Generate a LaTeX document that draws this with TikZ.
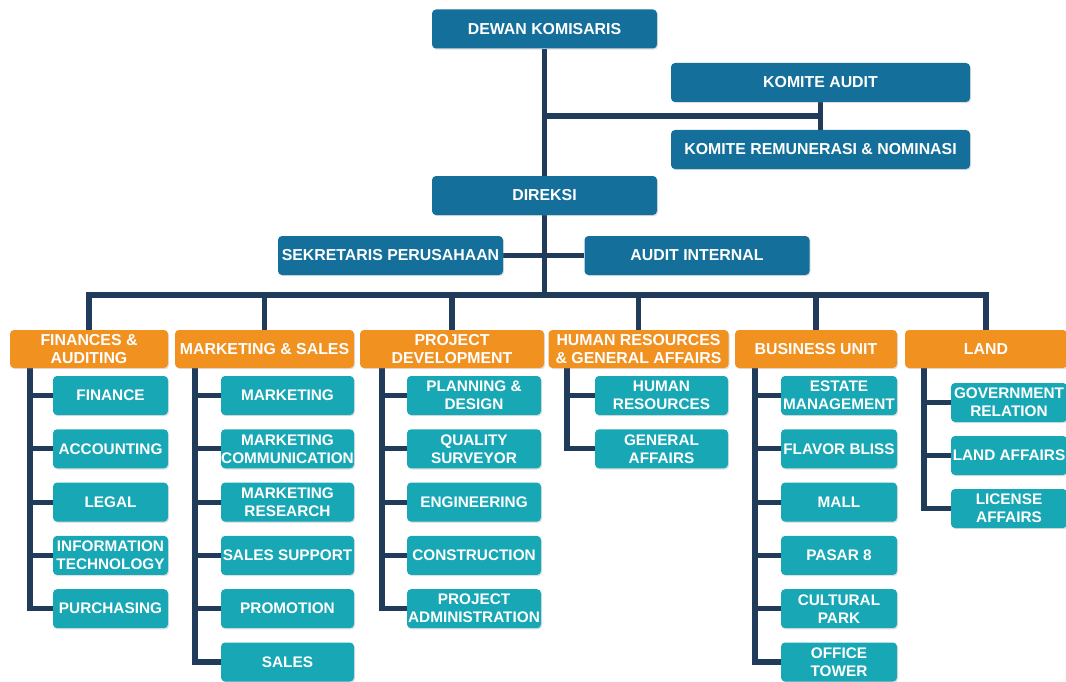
\documentclass[tikz,border=0pt]{standalone}
\usepackage{fontspec}
\setmainfont{Liberation Sans}
\usetikzlibrary{backgrounds,shadows}
\definecolor{cblue}{RGB}{20,112,155}
\definecolor{corange}{RGB}{241,145,32}
\definecolor{cteal}{RGB}{24,167,180}
\definecolor{cline}{RGB}{33,60,90}
\tikzset{
  basebox/.style={rounded corners=3pt, inner sep=0pt, align=center, text=white,
    drop shadow={shadow xshift=0.8pt, shadow yshift=-0.9pt, opacity=0.25}},
  topbox/.style={basebox, fill=cblue, minimum height=29.25pt,
    font=\fontsize{11.9pt}{13.5pt}\selectfont\bfseries},
  headbox/.style={basebox, fill=corange, minimum height=28.5pt,
    font=\fontsize{11.9pt}{13.5pt}\selectfont\bfseries},
  childbox/.style={basebox, fill=cteal, minimum height=29.25pt,
    font=\fontsize{11.5pt}{13.5pt}\selectfont\bfseries},
  conn/.style={draw=cline, line width=3.9pt}
}
\begin{document}
\begin{tikzpicture}[x=0.75pt,y=-0.75pt]
\useasboundingbox (0,0) rectangle (1066,681);
% top level
\node[topbox, minimum width=168.75pt] (DK) at (544.5,29) {DEWAN KOMISARIS};
\node[topbox, minimum width=224.25pt] (KA) at (820.5,82.5) {KOMITE AUDIT};
\node[topbox, minimum width=224.25pt] (KR) at (820.5,149.5) {KOMITE REMUNERASI \& NOMINASI};
\node[topbox, minimum width=168.75pt] (DIR) at (544.5,195.5) {DIREKSI};
\node[topbox, minimum width=168.75pt] (SEK) at (390.5,255.5) {SEKRETARIS PERUSAHAAN};
\node[topbox, minimum width=168.75pt] (AI) at (697,255.5) {AUDIT INTERNAL};
% headers
\node[headbox, minimum width=118.5pt] (FIN) at (89,349) {FINANCES \&\\AUDITING};
\node[headbox, minimum width=134.25pt] (MKT) at (264.5,349) {MARKETING \& SALES};
\node[headbox, minimum width=138pt] (PRJ) at (452,349) {PROJECT\\DEVELOPMENT};
\node[headbox, minimum width=135pt] (HR) at (638.5,349) {HUMAN RESOURCES\\\& GENERAL AFFAIRS};
\node[headbox, minimum width=121.5pt] (BUS) at (816,349) {BUSINESS UNIT};
\node[headbox, minimum width=121.5pt] (LAND) at (986,349) {LAND};
% finance children
\node[childbox, minimum width=86.25pt] (FIN1) at (110.5,395.5) {FINANCE};
\node[childbox, minimum width=86.25pt] (FIN2) at (110.5,448.8) {ACCOUNTING};
\node[childbox, minimum width=86.25pt] (FIN3) at (110.5,502.1) {LEGAL};
\node[childbox, minimum width=86.25pt] (FIN4) at (110.5,555.4) {INFORMATION\\TECHNOLOGY};
\node[childbox, minimum width=86.25pt] (FIN5) at (110.5,608.7) {PURCHASING};
% marketing children
\node[childbox, minimum width=99.75pt] (MKT1) at (287.5,395.5) {MARKETING};
\node[childbox, minimum width=99.75pt] (MKT2) at (287.5,448.8) {MARKETING\\COMMUNICATION};
\node[childbox, minimum width=99.75pt] (MKT3) at (287.5,502.1) {MARKETING\\RESEARCH};
\node[childbox, minimum width=99.75pt] (MKT4) at (287.5,555.4) {SALES SUPPORT};
\node[childbox, minimum width=99.75pt] (MKT5) at (287.5,608.7) {PROMOTION};
\node[childbox, minimum width=99.75pt] (MKT6) at (287.5,662) {SALES};
% project children
\node[childbox, minimum width=100.5pt] (PRJ1) at (474,395.5) {PLANNING \&\\DESIGN};
\node[childbox, minimum width=100.5pt] (PRJ2) at (474,448.8) {QUALITY\\SURVEYOR};
\node[childbox, minimum width=100.5pt] (PRJ3) at (474,502.1) {ENGINEERING};
\node[childbox, minimum width=100.5pt] (PRJ4) at (474,555.4) {CONSTRUCTION};
\node[childbox, minimum width=100.5pt] (PRJ5) at (474,608.7) {PROJECT\\ADMINISTRATION};
% HR children
\node[childbox, minimum width=99.75pt] (HR1) at (661.5,395.5) {HUMAN\\RESOURCES};
\node[childbox, minimum width=99.75pt] (HR2) at (661.5,448.8) {GENERAL\\AFFAIRS};
% business children
\node[childbox, minimum width=87pt] (BUS1) at (839,395.5) {ESTATE\\MANAGEMENT};
\node[childbox, minimum width=87pt] (BUS2) at (839,448.8) {FLAVOR BLISS};
\node[childbox, minimum width=87pt] (BUS3) at (839,502.1) {MALL};
\node[childbox, minimum width=87pt] (BUS4) at (839,555.4) {PASAR 8};
\node[childbox, minimum width=87pt] (BUS5) at (839,608.7) {CULTURAL\\PARK};
\node[childbox, minimum width=87pt] (BUS6) at (839,662) {OFFICE\\TOWER};
% land children
\node[childbox, minimum width=87pt] (LAND1) at (1009,402.5) {GOVERNMENT\\RELATION};
\node[childbox, minimum width=87pt] (LAND2) at (1009,455.5) {LAND AFFAIRS};
\node[childbox, minimum width=87pt] (LAND3) at (1009,508.5) {LICENSE\\AFFAIRS};
% connector helper points
\coordinate (bus) at (544.5,295);
\coordinate (kj) at (544.5,116);
\coordinate (FINt) at (30,362);
\coordinate (MKTt) at (195,362);
\coordinate (PRJt) at (382,362);
\coordinate (HRt) at (567,362);
\coordinate (BUSt) at (755,362);
\coordinate (LANDt) at (924,362);
\begin{pgfonlayer}{background}
\draw[conn] (DK.south) -- (DIR.north);
\draw[conn] (DIR.south) -- (bus);
\draw[conn] (kj) -| (KA.south);
\draw[conn] (KA.south) -- (KR.north);
\draw[conn] (SEK.east) -- (AI.west);
\foreach \h in {FIN,MKT,PRJ,HR,BUS,LAND} \draw[conn] (\h.north) |- (bus);
% child trees
\draw[conn] (FINt) |- (FIN5.west);
\foreach \i in {1,...,4} \draw[conn] (FIN\i.west) -- (FIN\i.west -| FINt);
\draw[conn] (MKTt) |- (MKT6.west);
\foreach \i in {1,...,5} \draw[conn] (MKT\i.west) -- (MKT\i.west -| MKTt);
\draw[conn] (PRJt) |- (PRJ5.west);
\foreach \i in {1,...,4} \draw[conn] (PRJ\i.west) -- (PRJ\i.west -| PRJt);
\draw[conn] (HRt) |- (HR2.west);
\draw[conn] (HR1.west) -- (HR1.west -| HRt);
\draw[conn] (BUSt) |- (BUS6.west);
\foreach \i in {1,...,5} \draw[conn] (BUS\i.west) -- (BUS\i.west -| BUSt);
\draw[conn] (LANDt) |- (LAND3.west);
\foreach \i in {1,2} \draw[conn] (LAND\i.west) -- (LAND\i.west -| LANDt);
\end{pgfonlayer}
\end{tikzpicture}
\end{document}
